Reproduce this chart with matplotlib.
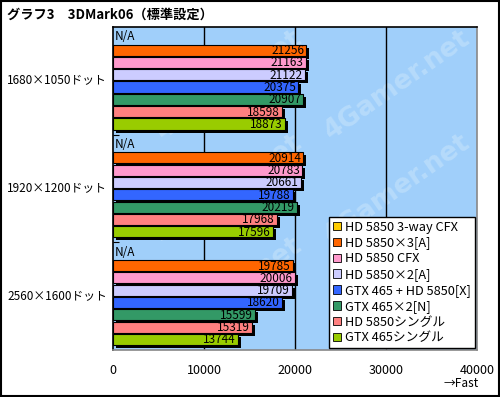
import numpy as np
import matplotlib
matplotlib.use('Agg')
import matplotlib.pyplot as plt
from matplotlib.patches import Patch, Rectangle
from matplotlib.transforms import ScaledTranslation, blended_transform_factory

plt.rcParams['font.family'] = ['Noto Sans CJK JP', 'DejaVu Sans']

# data
resolutions = ['1680×1050ドット', '1920×1200ドット', '2560×1600ドット']
series = ['HD 5850 3-way CFX', 'HD 5850×3[A]', 'HD 5850 CFX', 'HD 5850×2[A]',
          'GTX 465 + HD 5850[X]', 'GTX 465×2[N]', 'HD 5850シングル', 'GTX 465シングル']
colors = ['#FFCC00', '#FF6600', '#FF99CC', '#CCCCFF',
          '#3366FF', '#339966', '#FF8080', '#99CC00']
scores = [
    [None, 21256, 21163, 21122, 20375, 20907, 18598, 18873],
    [None, 20914, 20783, 20661, 19788, 20219, 17968, 17596],
    [None, 19785, 20006, 19709, 18620, 15599, 15319, 13744],
]
xticks = [0, 10000, 20000, 30000, 40000]

fig = plt.figure(figsize=(5, 3.97), dpi=100)
fig.patches.append(Rectangle((0.002, 0.002), 0.996, 0.996, transform=fig.transFigure,
                             fill=False, edgecolor='black', linewidth=1.5))
ax = fig.add_axes([0.226, 0.118, 0.728, 0.814])
ax.set_facecolor('#A0CFFA')

# faint site watermark over the plot area
for wx, wy in [(0.32, 0.82), (0.32, 0.5), (0.32, 0.18), (0.78, 0.82), (0.78, 0.5)]:
    ax.text(wx, wy, '4Gamer.net', transform=ax.transAxes, rotation=35, fontsize=19,
            fontweight='bold', color='#B6DBFB', ha='center', va='center', zorder=0.5,
            family='DejaVu Sans')

nser = len(series)
slot = 0.915 / nser
barh = slot * 0.9
shadow = ax.transData + ScaledTranslation(0.03, -0.03, fig.dpi_scale_trans)

for g, vals in enumerate(scores):
    top = g - 0.5 + (1 - slot * nser) / 2
    for i, v in enumerate(vals):
        yc = top + slot * (i + 0.5)
        if v is None:
            ax.text(150, yc - 0.01, 'N/A', va='center', ha='left', fontsize=8.5)
            continue
        ax.barh(yc, v, height=barh, left=0, color='black', transform=shadow, zorder=2)
        ax.barh(yc, v, height=barh, left=0, color=colors[i], edgecolor='black',
                linewidth=0.8, zorder=3)
        ax.text(v - 250, yc + 0.005, str(v), va='center', ha='right', fontsize=8.5, zorder=4)

ax.set_xlim(0, 40000)
ax.set_ylim(2.5, -0.5)
ax.set_xticks(xticks)
ax.set_xticklabels([str(t) for t in xticks], fontsize=9)
ax.tick_params(axis='x', length=0, pad=10)
ax.set_yticks([0.5, 1.5])
ax.set_yticklabels([])
ax.tick_params(axis='y', direction='in', length=4, color='black')
for x in xticks[1:4]:
    ax.axvline(x, color='black', linewidth=1, zorder=1)
ax.spines['left'].set_color('black')
ax.spines['top'].set_color('black')
ax.spines['right'].set_color('#888888')
ax.spines['bottom'].set_color('#888888')
for s in ax.spines.values():
    s.set_linewidth(1.2)

lbl = blended_transform_factory(fig.transFigure, ax.transData)
for g, name in enumerate(resolutions):
    ax.text(0.014, g, name, transform=lbl, va='center', ha='left', fontsize=8.5)

fig.text(0.014, 0.962, 'グラフ3　3DMark06（標準設定）', fontsize=9.5, fontweight='bold',
         va='center', ha='left')
fig.text(0.958, 0.035, '→Fast', fontsize=8.5, ha='right', va='center')

handles = [Patch(facecolor=c, edgecolor='black', linewidth=0.6) for c in colors]
leg = ax.legend(handles, series, loc='lower right', bbox_to_anchor=(0.994, 0.006),
                fontsize=9.2, frameon=True, fancybox=False, framealpha=1, borderpad=0.3,
                labelspacing=0.22, handlelength=0.65, handleheight=0.65,
                handletextpad=0.3, borderaxespad=0)
leg.get_frame().set_edgecolor('black')
leg.get_frame().set_facecolor('white')
leg.get_frame().set_linewidth(1)
leg.set_zorder(10)

fig.savefig('out.png', dpi=100)
